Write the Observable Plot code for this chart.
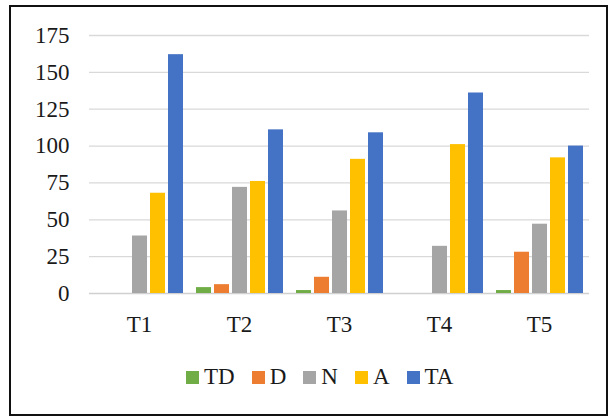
<!DOCTYPE html>
<html>
<head>
<meta charset="utf-8">
<script src="https://cdn.jsdelivr.net/npm/d3@7"></script>
<script src="https://cdn.jsdelivr.net/npm/@observablehq/plot@0.6"></script>
<style>
  html, body { margin: 0; padding: 0; background: #fff; }
  body { width: 613px; height: 417px; position: relative; overflow: hidden; font-family: 'Liberation Serif'; }
  #frame { position: absolute; left: 9px; top: 5px; width: 599px; height: 411px; box-sizing: border-box; border: 2px solid #111; }
  #chart { position: absolute; left: 0; top: 0; }
  #legend { position: absolute; left: 186px; top: 364px; display: flex; align-items: center; font-size: 23px; color: #1a1a1a; font-family: 'Liberation Serif'; }
  #legend .item { display: flex; align-items: center; margin-right: 17px; }
  #legend .sw { width: 13px; height: 13px; margin-right: 5px; }
</style>
</head>
<body>
<div id="frame"></div>
<div id="chart"></div>
<div id="legend"></div>
<script>
const categories = ["T1", "T2", "T3", "T4", "T5"];
const seriesNames = ["TD", "D", "N", "A", "TA"];
const seriesColors = ["#70AD47", "#ED7D31", "#A5A5A5", "#FFC000", "#4472C4"];
const TD = [0, 4, 2, 0, 2];
const D  = [0, 6, 11, 0, 28];
const N  = [39, 72, 56, 32, 47];
const A  = [68, 76, 91, 101, 92];
const TA = [162, 111, 109, 136, 100];
const yTicks = [0, 25, 50, 75, 100, 125, 150, 175];

const seriesValues = {TD, D, N, A, TA};
const rows = [];
categories.forEach((c, i) => {
  seriesNames.forEach(s => rows.push({cat: c, series: s, value: seriesValues[s][i]}));
});

const chart = Plot.plot({
  width: 613,
  height: 345,
  marginLeft: 87,
  marginRight: 23,
  marginTop: 35,
  marginBottom: 345 - 293,
  style: {fontFamily: "Liberation Serif", fontSize: "23px", color: "#1a1a1a", background: "transparent"},
  fx: {domain: categories, padding: 0, label: null, axis: "bottom", tickSize: 0, tickPadding: 22},
  x: {domain: seriesNames, paddingInner: 0.18, paddingOuter: 0.34, axis: null},
  y: {domain: [0, 175], ticks: yTicks, label: null, tickSize: 0, tickPadding: 20},
  color: {domain: seriesNames, range: seriesColors},
  marks: [
    Plot.gridY(yTicks.filter(d => d > 0), {stroke: "#d9d9d9", strokeOpacity: 1, strokeWidth: 1.3}),
    Plot.ruleY([0], {stroke: "#d0d0d0", strokeWidth: 1.5}),
    Plot.barY(rows, {fx: "cat", x: "series", y: "value", fill: "series"})
  ]
});
chart.querySelectorAll("text").forEach(t => t.style.fontFamily = "'Liberation Serif'");
document.getElementById("chart").appendChild(chart);

const legend = document.getElementById("legend");
seriesNames.forEach((s, i) => {
  const item = document.createElement("div");
  item.className = "item";
  const sw = document.createElement("span");
  sw.className = "sw";
  sw.style.background = seriesColors[i];
  const t = document.createElement("span");
  t.textContent = s;
  t.style.fontFamily = "'Liberation Serif'";
  item.appendChild(sw);
  item.appendChild(t);
  legend.appendChild(item);
});
</script>
</body>
</html>
